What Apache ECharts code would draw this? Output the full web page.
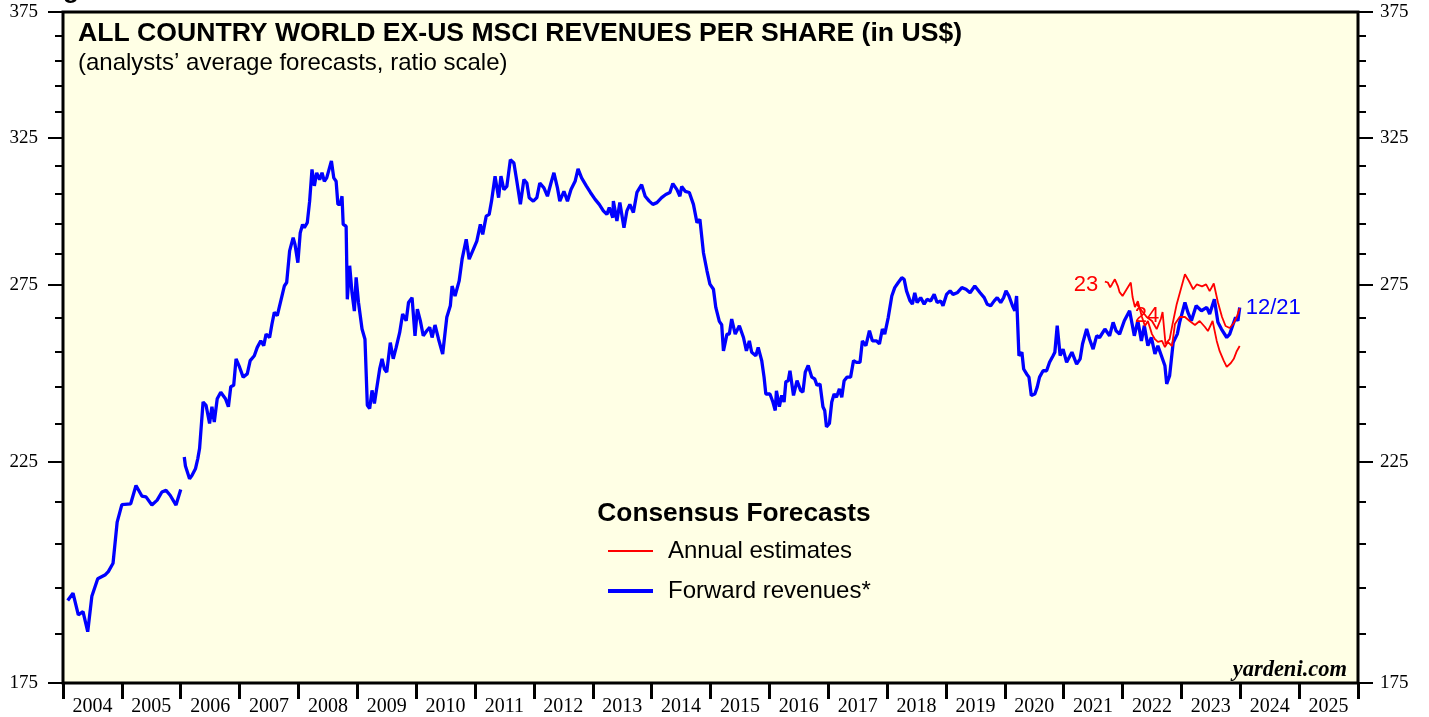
<!DOCTYPE html>
<html>
<head>
<meta charset="utf-8">
<script src="https://cdn.jsdelivr.net/npm/echarts@6/dist/echarts.min.js"></script>
<style>
html,body{margin:0;padding:0;background:#fff;}
#chart{width:1429px;height:717px;}
</style>
</head>
<body>
<div id="chart"></div>
<script>
// x labels and y ticks
var years = ['2004','2005','2006','2007','2008','2009','2010','2011','2012','2013','2014',
	'2015','2016','2017','2018','2019','2020','2021','2022','2023','2024','2025'];
var yLabelValues = [175, 225, 275, 325, 375];
var yMinorValues = [185, 195, 205, 215, 235, 245, 255, 265, 285, 295, 305, 315, 335, 345, 355, 365];

// forward revenues (blue), [year, US$]
var forward = [
	[2004.08,192.2],[2004.17,193.8],[2004.26,189.1],[2004.34,189.8],[2004.42,185.5],[2004.49,193.1],
	[2004.59,197.0],[2004.72,197.9],[2004.77,198.6],[2004.85,200.5],[2004.92,210.1],[2005.00,214.3],
	[2005.15,214.5],[2005.24,219.0],[2005.34,216.4],[2005.41,216.2],[2005.51,214.2],[2005.60,215.4],
	[2005.68,217.4],[2005.75,217.8],[2005.82,216.6],[2005.92,214.2],[2006.00,218.0],[2006.03,null],
	[2006.06,226.2],[2006.08,223.9],[2006.15,220.7],[2006.19,221.5],[2006.25,223.2],[2006.29,225.8],
	[2006.32,228.4],[2006.38,240.8],[2006.43,239.9],[2006.49,235.0],[2006.53,239.5],[2006.57,235.4],
	[2006.62,241.7],[2006.68,243.5],[2006.76,241.7],[2006.81,239.5],[2006.85,245.0],[2006.90,245.4],
	[2006.94,252.9],[2007.00,250.5],[2007.06,247.7],[2007.13,248.6],[2007.18,252.4],[2007.25,253.8],
	[2007.30,256.2],[2007.36,258.1],[2007.41,256.7],[2007.45,260.1],[2007.51,259.1],[2007.55,263.1],
	[2007.59,266.6],[2007.64,265.6],[2007.70,270.1],[2007.76,274.7],[2007.80,275.8],[2007.85,285.9],
	[2007.91,290.2],[2007.94,288.1],[2007.99,282.1],[2008.03,291.8],[2008.07,294.6],[2008.10,293.5],
	[2008.15,295.2],[2008.19,302.5],[2008.23,313.6],[2008.27,307.8],[2008.31,312.4],[2008.36,310.0],
	[2008.40,312.4],[2008.44,309.4],[2008.48,310.6],[2008.52,313.6],[2008.56,316.6],[2008.60,310.6],
	[2008.64,309.4],[2008.67,301.4],[2008.71,301.4],[2008.74,304.2],[2008.76,294.6],[2008.81,294.0],
	[2008.83,270.6],[2008.87,281.1],[2008.91,272.6],[2008.95,267.0],[2008.98,277.4],[2009.02,269.6],
	[2009.08,261.6],[2009.13,258.6],[2009.17,239.9],[2009.21,239.0],[2009.25,244.0],[2009.29,240.4],
	[2009.32,240.8],[2009.38,250.0],[2009.42,252.9],[2009.46,250.0],[2009.50,249.1],[2009.56,257.6],
	[2009.61,252.9],[2009.66,256.2],[2009.72,260.6],[2009.77,266.1],[2009.83,264.1],[2009.87,269.6],
	[2009.93,271.1],[2009.98,259.6],[2010.02,267.6],[2010.07,264.1],[2010.12,259.6],[2010.18,261.1],
	[2010.23,262.1],[2010.27,259.1],[2010.32,262.8],[2010.38,258.6],[2010.45,254.3],[2010.52,265.1],
	[2010.58,268.6],[2010.61,274.7],[2010.66,271.6],[2010.73,276.3],[2010.78,283.2],[2010.85,289.7],
	[2010.90,283.2],[2010.96,285.9],[2011.03,289.1],[2011.09,294.6],[2011.13,291.3],[2011.19,297.4],
	[2011.24,298.0],[2011.28,302.5],[2011.34,311.2],[2011.40,303.7],[2011.44,311.2],[2011.49,306.5],
	[2011.54,307.6],[2011.60,317.1],[2011.66,315.9],[2011.71,309.4],[2011.77,301.4],[2011.83,310.0],
	[2011.88,308.8],[2011.92,303.7],[2011.99,302.5],[2012.05,303.7],[2012.10,308.8],[2012.17,307.1],
	[2012.23,304.2],[2012.29,308.8],[2012.34,312.4],[2012.40,307.1],[2012.44,302.5],[2012.51,305.9],
	[2012.57,302.5],[2012.63,306.5],[2012.70,309.4],[2012.75,313.8],[2012.81,310.6],[2012.89,307.8],
	[2012.96,305.5],[2013.04,303.1],[2013.11,301.4],[2013.18,299.2],[2013.24,298.0],[2013.28,300.3],
	[2013.34,296.9],[2013.35,302.5],[2013.41,295.8],[2013.46,302.0],[2013.53,293.5],[2013.58,299.2],
	[2013.63,301.4],[2013.69,298.6],[2013.75,305.5],[2013.83,308.2],[2013.89,304.2],[2013.96,302.5],
	[2014.02,301.4],[2014.09,302.0],[2014.17,303.7],[2014.24,304.8],[2014.31,305.5],[2014.36,308.6],
	[2014.43,306.5],[2014.48,304.2],[2014.51,307.6],[2014.57,305.9],[2014.64,305.5],[2014.71,301.4],
	[2014.77,295.2],[2014.82,296.3],[2014.88,285.3],[2014.94,279.5],[2014.99,275.3],[2015.05,273.7],
	[2015.09,268.1],[2015.15,263.9],[2015.19,262.9],[2015.22,255.2],[2015.28,260.1],[2015.32,260.1],
	[2015.36,264.6],[2015.42,260.1],[2015.49,262.6],[2015.56,259.1],[2015.61,255.2],[2015.66,258.1],
	[2015.70,254.8],[2015.77,253.8],[2015.81,256.2],[2015.87,252.4],[2015.91,247.7],[2015.94,243.0],
	[2016.01,243.0],[2016.06,240.8],[2016.10,238.5],[2016.12,243.9],[2016.17,239.5],[2016.21,242.6],
	[2016.25,240.8],[2016.28,246.4],[2016.32,246.7],[2016.35,249.5],[2016.41,242.6],[2016.47,246.7],
	[2016.53,244.0],[2016.57,243.5],[2016.61,249.1],[2016.66,251.0],[2016.72,247.7],[2016.77,247.2],
	[2016.81,245.4],[2016.86,245.8],[2016.91,239.5],[2016.94,238.5],[2016.97,234.1],[2017.02,235.0],
	[2017.06,240.8],[2017.10,243.0],[2017.14,242.1],[2017.19,244.4],[2017.23,242.1],[2017.27,246.7],
	[2017.32,247.7],[2017.38,247.7],[2017.43,252.4],[2017.48,251.9],[2017.54,251.9],[2017.58,258.1],
	[2017.64,256.7],[2017.70,261.1],[2017.75,258.1],[2017.82,258.1],[2017.87,257.2],[2017.92,261.6],
	[2017.96,260.1],[2018.02,265.1],[2018.08,271.6],[2018.13,274.2],[2018.19,275.8],[2018.25,277.3],
	[2018.29,276.8],[2018.33,273.2],[2018.39,270.1],[2018.43,269.1],[2018.47,272.6],[2018.51,269.6],
	[2018.57,271.1],[2018.63,269.1],[2018.68,270.6],[2018.74,270.1],[2018.80,272.1],[2018.85,269.6],
	[2018.91,270.1],[2018.95,268.6],[2019.01,272.1],[2019.07,273.2],[2019.12,272.1],[2019.19,272.6],
	[2019.27,274.2],[2019.34,273.7],[2019.41,272.6],[2019.49,274.7],[2019.58,272.6],[2019.65,271.1],
	[2019.70,269.1],[2019.76,268.6],[2019.82,270.1],[2019.87,271.1],[2019.93,269.6],[2019.98,271.1],
	[2020.02,273.2],[2020.07,271.6],[2020.13,268.6],[2020.17,267.1],[2020.20,271.6],[2020.24,253.8],
	[2020.29,254.8],[2020.32,250.0],[2020.37,248.6],[2020.41,247.7],[2020.45,242.6],[2020.51,243.0],
	[2020.55,244.9],[2020.59,247.7],[2020.65,249.5],[2020.71,249.5],[2020.76,251.9],[2020.82,253.8],
	[2020.85,254.8],[2020.89,262.6],[2020.94,253.8],[2020.99,255.7],[2021.05,251.9],[2021.14,254.8],
	[2021.22,251.4],[2021.28,252.9],[2021.32,257.2],[2021.39,261.6],[2021.44,258.6],[2021.50,255.7],
	[2021.56,259.6],[2021.61,259.1],[2021.70,261.6],[2021.78,259.6],[2021.84,263.6],[2021.89,261.1],
	[2021.95,260.1],[2022.03,264.1],[2022.12,267.1],[2022.20,259.6],[2022.26,264.1],[2022.32,258.1],
	[2022.37,262.6],[2022.43,256.7],[2022.49,259.1],[2022.55,254.3],[2022.60,256.7],[2022.66,253.8],
	[2022.72,250.9],[2022.75,245.8],[2022.80,248.1],[2022.86,257.6],[2022.93,260.1],[2022.97,263.6],
	[2023.06,269.6],[2023.11,266.6],[2023.17,264.1],[2023.25,268.6],[2023.34,267.1],[2023.43,268.1],
	[2023.48,266.1],[2023.56,270.6],[2023.62,263.6],[2023.68,261.6],[2023.77,259.1],[2023.82,260.1],
	[2023.88,263.1],[2023.92,265.1],[2023.96,264.1],[2023.99,268.1]
];

// annual estimates (red)
var est23 = [
	[2021.70,276.1],[2021.75,275.8],[2021.79,274.3],[2021.82,275.2],[2021.87,276.8],[2021.92,274.7],
	[2021.95,272.8],[2022.00,271.6],[2022.07,273.7],[2022.14,275.8],[2022.17,271.3],[2022.21,268.2],
	[2022.26,270.0],[2022.33,265.2],[2022.38,262.5],[2022.43,264.0],[2022.50,260.1],[2022.55,258.6],
	[2022.60,257.8],[2022.67,258.1],[2022.72,256.3],[2022.77,257.8],[2022.84,256.6],[2022.89,263.1],
	[2022.97,265.2],[2023.06,265.2],[2023.14,264.0],[2023.23,262.8],[2023.31,264.0],[2023.40,262.2],
	[2023.45,261.0],[2023.53,264.0],[2023.60,258.1],[2023.65,255.1],[2023.72,252.3],[2023.77,250.6],
	[2023.84,251.7],[2023.89,252.9],[2023.94,255.1],[2023.99,256.6]
];
var est24 = [
	[2022.24,269.1],[2022.33,267.0],[2022.41,265.2],[2022.50,264.0],[2022.58,261.6],[2022.65,264.6],
	[2022.68,266.7],[2022.73,257.2],[2022.80,258.6],[2022.85,263.1],[2022.92,269.1],[2022.99,273.7],
	[2023.06,278.4],[2023.13,276.2],[2023.20,273.7],[2023.26,275.2],[2023.35,274.6],[2023.42,275.2],
	[2023.48,273.1],[2023.55,275.5],[2023.62,269.7],[2023.69,265.2],[2023.75,262.5],[2023.82,261.9],
	[2023.89,263.4],[2023.94,265.2],[2023.99,267.9]
];

// ratio scale: plot ln(value) on a linear axis
function toLog(arr){
	return arr.map(function(p){ return [p[0], p[1] == null ? null : Math.log(p[1])]; });
}
var logLabels = yLabelValues.map(Math.log);
var logMinor = yMinorValues.map(Math.log);
var yMin = Math.log(175), yMax = Math.log(375);

function yAxisDef(pos, major){
	return {
		type:'value', position:pos, min:yMin, max:yMax,
		axisLine:{show:false}, splitLine:{show:false},
		axisTick:{show:true, customValues: major ? logLabels : logMinor, length: major ? 15 : 8,
			lineStyle:{color:'#000', width:2}},
		axisLabel:{show:major, customValues:logLabels, margin: pos == 'left' ? 25 : 22,
			color:'#000', fontFamily:'Liberation Serif', fontSize:19,
			formatter:function(v){ return Math.round(Math.exp(v)); }}
	};
}

var chart = echarts.init(document.getElementById('chart'));
var font = 'Liberation Sans';
var option = {
	animation:false,
	grid:{left:63, right:71, top:12, bottom:32, show:true, backgroundColor:'#ffffe5',
		borderColor:'#000', borderWidth:3},
	xAxis:[
		{type:'value', min:2004, max:2026, show:false},
		{type:'category', data:years, position:'bottom', boundaryGap:true,
			axisLine:{show:false}, splitLine:{show:false},
			axisTick:{show:true, interval:0, length:16, lineStyle:{color:'#000', width:3}},
			axisLabel:{interval:0, margin:14, color:'#000', fontFamily:'Liberation Serif', fontSize:20}}
	],
	yAxis:[yAxisDef('left', true), yAxisDef('left', false), yAxisDef('right', true), yAxisDef('right', false)],
	series:[
		{type:'line', name:'Forward revenues*', data:toLog(forward), xAxisIndex:0, yAxisIndex:0,
			showSymbol:false, connectNulls:false, z:2,
			lineStyle:{color:'#0000ff', width:3.3}, itemStyle:{color:'#0000ff'},
			endLabel:{show:true, formatter:'12/21', color:'#0000ff', fontFamily:font, fontSize:22, distance:6}},
		{type:'line', name:'23', data:toLog(est23), xAxisIndex:0, yAxisIndex:0,
			showSymbol:false, z:3, lineStyle:{color:'#ff0000', width:1.8}, itemStyle:{color:'#ff0000'}},
		{type:'line', name:'24', data:toLog(est24), xAxisIndex:0, yAxisIndex:0,
			showSymbol:false, z:3, lineStyle:{color:'#ff0000', width:1.8}, itemStyle:{color:'#ff0000'}}
	],
	graphic:[
		{type:'text', x:40, y:-9, z:100, style:{text:'Figure', fontFamily:font, fontWeight:'bold', fontSize:26, fill:'#000', verticalAlign:'middle'}},
		{type:'text', x:78, y:34, z:100, style:{text:'ALL COUNTRY WORLD EX-US MSCI REVENUES PER SHARE (in US$)',
			fontFamily:font, fontWeight:'bold', fontSize:26.6, fill:'#000', verticalAlign:'middle'}},
		{type:'text', x:78, y:63, z:100, style:{text:'(analysts\u2019 average forecasts, ratio scale)',
			fontFamily:font, fontSize:24, fill:'#000', verticalAlign:'middle'}},
		{type:'text', x:734, y:514, z:100, style:{text:'Consensus Forecasts', fontFamily:font, fontWeight:'bold',
			fontSize:26.3, fill:'#000', align:'center', verticalAlign:'middle'}},
		{type:'line', z:100, shape:{x1:608, y1:551, x2:653, y2:551}, style:{stroke:'#ff0000', lineWidth:2}},
		{type:'text', x:668, y:551, z:100, style:{text:'Annual estimates', fontFamily:font, fontSize:24, fill:'#000', verticalAlign:'middle'}},
		{type:'line', z:100, shape:{x1:608, y1:591, x2:653, y2:591}, style:{stroke:'#0000ff', lineWidth:4}},
		{type:'text', x:668, y:591, z:100, style:{text:'Forward revenues*', fontFamily:font, fontSize:24, fill:'#000', verticalAlign:'middle'}},
		{type:'text', x:1086, y:285, z:100, style:{text:'23', fontFamily:font, fontSize:22, fill:'#ff0000', align:'center', verticalAlign:'middle'}},
		{type:'text', x:1147, y:316, z:100, style:{text:'24', fontFamily:font, fontSize:22, fill:'#ff0000', align:'center', verticalAlign:'middle'}},
		{type:'text', x:1347, y:670, z:100, style:{text:'yardeni.com', fontFamily:'Liberation Serif', fontStyle:'italic',
			fontWeight:'bold', fontSize:22.5, fill:'#000', align:'right', verticalAlign:'middle'}}
	]
};
chart.setOption(option);
</script>
</body>
</html>
